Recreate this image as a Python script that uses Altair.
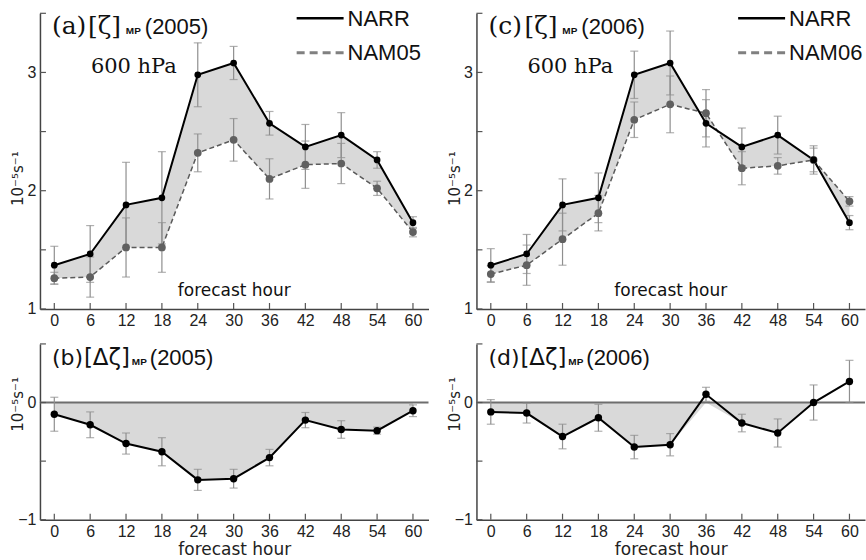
import altair as alt
import pandas as pd

# ---------------- data ----------------
hours = [0, 6, 12, 18, 24, 30, 36, 42, 48, 54, 60]

narr = [1.37, 1.465, 1.88, 1.94, 2.98, 3.08, 2.57, 2.37, 2.47, 2.26, 1.73]

nam05 = [1.26, 1.27, 1.52, 1.52, 2.32, 2.43, 2.10, 2.22, 2.23, 2.02, 1.65]
narr_err05 = [0.16, 0.24, 0.36, 0.39, 0.27, 0.14, 0.10, 0.19, 0.19, 0.07, 0.05]
nam05_err = [0.05, 0.17, 0.25, 0.21, 0.16, 0.18, 0.17, 0.20, 0.17, 0.06, 0.04]

nam06 = [1.295, 1.37, 1.59, 1.81, 2.60, 2.73, 2.655, 2.19, 2.21, 2.26, 1.91]
narr_err06 = [0.14, 0.165, 0.22, 0.21, 0.20, 0.27, 0.20, 0.16, 0.16, 0.12, 0.06]
nam06_err = [0.07, 0.17, 0.22, 0.15, 0.15, 0.24, 0.20, 0.14, 0.07, 0.10, 0.04]

d05 = [-0.10, -0.19, -0.35, -0.42, -0.66, -0.65, -0.47, -0.15, -0.23, -0.24, -0.07]
d05_err = [0.145, 0.11, 0.09, 0.12, 0.09, 0.08, 0.07, 0.065, 0.075, 0.03, 0.05]

d06 = [-0.08, -0.09, -0.29, -0.13, -0.38, -0.36, 0.07, -0.175, -0.26, 0.0, 0.18]
d06_err = [0.105, 0.085, 0.105, 0.115, 0.10, 0.095, 0.06, 0.075, 0.12, 0.15, 0.18]

top_yticks = [1, 1.5, 2, 2.5, 3, 3.5]
top_ylabels = [1, 2, 3]
bot_yticks = [-1, -0.5, 0, 0.5]
bot_ylabels = [-1, 0]

# ---------------- styling ----------------
W = 389
HT = 296
HB = 176
XDOM = [-2.4, 62.6]
FILL = "#d9d9d9"
ERR = "#8f8f8f"
NAMC = "#5a5a5a"
YTITLE = "10⁻⁵s⁻¹"
SANS = "Liberation Sans"
SERIF = "DejaVu Serif"

xscale = alt.Scale(domain=XDOM, nice=False, zero=False)


def txt(s, x, y, size, font=SANS, weight="normal", color="#111", baseline="alphabetic", align="left"):
    return alt.Chart(pd.DataFrame({"t": [s]})).mark_text(
        font=font, fontSize=size, fontWeight=weight, color=color,
        baseline=baseline, align=align
    ).encode(x=alt.value(x), y=alt.value(y), text="t:N")


def ticks_layers(h, X, Yf):
    xt = alt.Chart(pd.DataFrame({"hour": hours})).mark_rule(color="#555", strokeWidth=1.2).encode(
        x=X, y=alt.value(h), y2=alt.value(h - 6))
    yt = alt.Chart(pd.DataFrame({"v": Yf[1]})).mark_rule(color="#555", strokeWidth=1.2).encode(
        y=Yf[0]("v:Q"), x=alt.value(0), x2=alt.value(6))
    return [xt, yt]


def title_layers(letter, year, delta):
    layers = []
    if delta:
        layers.append(txt(f"({letter})", 12, 21, 22, font="DejaVu Sans"))
        layers.append(txt("[Δζ]", 44, 21, 23, font="DejaVu Sans"))
        layers.append(txt("MP", 92, 21, 10, weight="bold"))
        layers.append(txt(f"({year})", 110, 21, 22))
    else:
        layers.append(txt(f"({letter})", 12, 21, 25, font=SERIF))
        layers.append(txt("[ζ]", 48, 21, 25, font=SERIF))
        layers.append(txt("MP", 86, 21, 10, weight="bold"))
        layers.append(txt(f"({year})", 105, 21, 22))
    return layers


def top_panel(nam, narr_err, nam_err, letter, year, namlabel, legx):
    yscale = alt.Scale(domain=[1, 3.5], nice=False, zero=False)
    yaxis = alt.Axis(values=top_ylabels, title=YTITLE, labelPadding=4,
                     titleX=-22, titleY=165, titleBaseline="middle", titleAngle=270)
    xaxis = alt.Axis(values=hours, title=None, labelPadding=4)
    X = alt.X("hour:Q", scale=xscale, axis=xaxis)

    def Y(f):
        return alt.Y(f, scale=yscale, axis=yaxis)

    df = pd.DataFrame({"hour": hours, "narr": narr, "nam": nam,
                       "narr_err": narr_err, "nam_err": nam_err})
    df["narr_lo"] = df["narr"] - df["narr_err"]
    df["narr_hi"] = df["narr"] + df["narr_err"]
    df["nam_lo"] = df["nam"] - df["nam_err"]
    df["nam_hi"] = df["nam"] + df["nam_err"]
    caps = pd.DataFrame({
        "hour": hours * 4,
        "v": list(df["narr_lo"]) + list(df["narr_hi"]) + list(df["nam_lo"]) + list(df["nam_hi"]),
    })
    base = alt.Chart(df)
    area = base.mark_area(color=FILL, opacity=1).encode(x=X, y=Y("narr:Q"), y2="nam:Q")
    err1 = base.mark_rule(color=ERR, strokeWidth=1.2).encode(x=X, y=Y("narr_lo:Q"), y2="narr_hi:Q")
    err2 = base.mark_rule(color=ERR, strokeWidth=1.2).encode(x=X, y=Y("nam_lo:Q"), y2="nam_hi:Q")
    cap = alt.Chart(caps).mark_tick(color=ERR, orient="horizontal", size=8, thickness=1.2).encode(
        x=X, y=Y("v:Q"))
    l_nam = base.mark_line(color=NAMC, strokeWidth=1.5, strokeDash=[5, 3]).encode(x=X, y=Y("nam:Q"))
    l_narr = base.mark_line(color="black", strokeWidth=2).encode(x=X, y=Y("narr:Q"))
    p_nam = base.mark_circle(color="#606060", size=60, opacity=1).encode(x=X, y=Y("nam:Q"))
    p_narr = base.mark_circle(color="black", size=45, opacity=1).encode(x=X, y=Y("narr:Q"))

    leg1 = alt.Chart(pd.DataFrame({"a": [0]})).mark_rule(color="black", strokeWidth=2.5).encode(
        x=alt.value(legx), x2=alt.value(legx + 47), y=alt.value(5))
    leg2 = alt.Chart(pd.DataFrame({"a": [0]})).mark_rule(color="#808080", strokeWidth=3, strokeDash=[8, 5]).encode(
        x=alt.value(legx), x2=alt.value(legx + 47), y=alt.value(39.5))
    texts = [
        txt("NARR", legx + 51, 6, 22, baseline="middle"),
        txt(namlabel, legx + 51, 40, 22, baseline="middle"),
        txt("600 hPa", 51, 60, 21, font=SERIF),
        txt("forecast hour", W / 2, 283, 17, font="DejaVu Sans", align="center"),
    ]
    layers = [area, err1, err2, cap, l_nam, l_narr, p_nam, p_narr, leg1, leg2]
    layers += ticks_layers(HT, X, (Y, top_yticks))
    layers += texts + title_layers(letter, year, False)
    return alt.layer(*layers).properties(width=W, height=HT)


def bot_panel(d, derr, letter, year):
    yscale = alt.Scale(domain=[-1, 0.5], nice=False, zero=False)
    yaxis = alt.Axis(values=bot_ylabels, title=YTITLE, labelPadding=4,
                     titleX=-22, titleY=60, titleBaseline="middle", titleAngle=270)
    xaxis = alt.Axis(values=hours, title="forecast hour", labelPadding=4,
                     titleFontSize=17, titlePadding=2)
    X = alt.X("hour:Q", scale=xscale, axis=xaxis)

    def Y(f):
        return alt.Y(f, scale=yscale, axis=yaxis)

    df = pd.DataFrame({"hour": hours, "d": d, "err": derr})
    df["lo"] = df["d"] - df["err"]
    df["hi"] = df["d"] + df["err"]
    caps = pd.DataFrame({"hour": hours * 2, "v": list(df["lo"]) + list(df["hi"])})
    base = alt.Chart(df)
    area = base.transform_calculate(dneg="min(datum.d, 0)", zero="0").mark_area(
        color=FILL, opacity=1).encode(x=X, y=Y("dneg:Q"), y2="zero:Q")
    zero_line = alt.Chart(pd.DataFrame({"z": [0]})).mark_rule(color="#6e6e6e", strokeWidth=2).encode(
        y=Y("z:Q"), x=alt.value(0), x2=alt.value(W))
    err = base.mark_rule(color=ERR, strokeWidth=1.2).encode(x=X, y=Y("lo:Q"), y2="hi:Q")
    cap = alt.Chart(caps).mark_tick(color=ERR, orient="horizontal", size=8, thickness=1.2).encode(
        x=X, y=Y("v:Q"))
    line = base.mark_line(color="black", strokeWidth=2).encode(x=X, y=Y("d:Q"))
    pts = base.mark_circle(color="black", size=55, opacity=1).encode(x=X, y=Y("d:Q"))
    layers = [area, zero_line, err, cap, line, pts]
    layers += ticks_layers(HB, X, (Y, bot_yticks))
    layers += title_layers(letter, year, True)
    return alt.layer(*layers).properties(width=W, height=HB)


a = top_panel(nam05, narr_err05, nam05_err, "a", "2005", "NAM05", 257)
c = top_panel(nam06, narr_err06, nam06_err, "c", "2006", "NAM06", 262)
b = bot_panel(d05, d05_err, "b", "2005")
dd = bot_panel(d06, d06_err, "d", "2006")

left = alt.vconcat(a, b, spacing=14)
right = alt.vconcat(c, dd, spacing=14)

chart = alt.hconcat(left, right, spacing=18).properties(
    padding={"left": 11, "top": 8, "right": 0, "bottom": 0},
    background="white",
).configure_view(stroke=None).configure_axis(
    domainColor="#444", domainWidth=1.5, grid=False, ticks=False,
    labelFont=SANS, labelFontSize=16, labelColor="#222",
    titleFont="DejaVu Sans", titleFontWeight="normal", titleColor="#222", titleFontSize=15,
)

chart.save("out.html", embed_options={"renderer": "svg", "actions": False})
